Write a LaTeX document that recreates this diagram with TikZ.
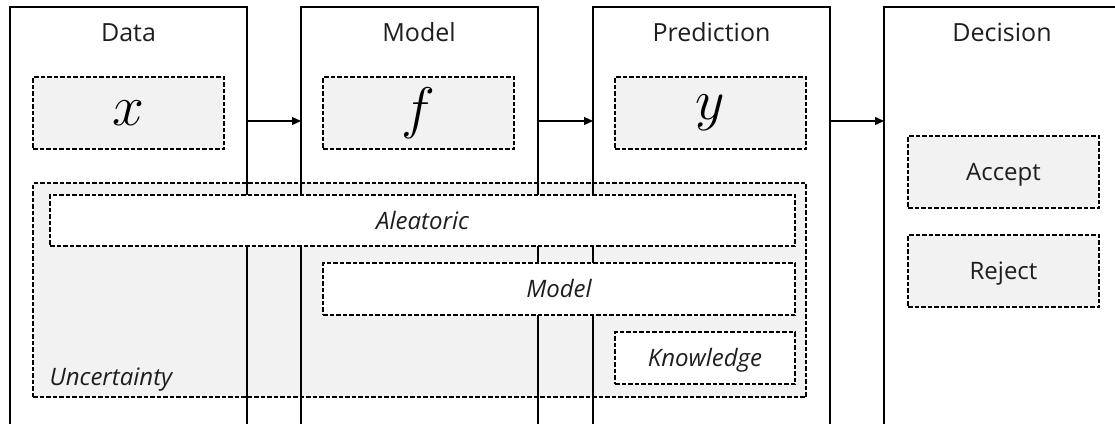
\documentclass[tikz,border=0pt]{standalone}
\usepackage{fontspec}
\setmainfont{Open Sans}
\usetikzlibrary{arrows.meta}
\definecolor{boxgrey}{HTML}{F2F2F2}
\definecolor{ink}{HTML}{1E1E1E}
\newcommand{\bigsym}[1]{\scalebox{2.3}{$#1$}}

\begin{document}
\begin{tikzpicture}[x=1pt,y=-1pt,
  column/.style={draw=black, line width=1.3pt, anchor=north west,
    minimum width=237pt, minimum height=440pt, inner sep=0pt, outer sep=0pt},
  coltitle/.style={anchor=base, text=ink, font=\fontsize{25}{30}\selectfont},
  dbox/.style={draw=black, line width=1.2pt, dash pattern=on 4.5pt off 2pt,
    anchor=north west, inner sep=0pt, outer sep=0pt, text=ink,
    text height=17pt, text depth=0pt, font=\fontsize{24}{28}\selectfont},
  greybox/.style={dbox, fill=boxgrey},
  whitebox/.style={dbox, fill=white, font=\fontsize{24}{28}\selectfont\itshape},
  mathbox/.style={greybox, text height=, text depth=, text=black,
    minimum width=191pt, minimum height=72pt, font=\fontsize{24.88}{30}\selectfont},
  flow/.style={draw=black, line width=1.3pt, -{Triangle[length=9pt,width=8pt]}}
]
\useasboundingbox (0,0) rectangle (1115,423);
\clip (0,0) rectangle (1115,423);

% shaded uncertainty region
\node[greybox, minimum width=773pt, minimum height=214pt] (unc) at (33,183) {};

% pipeline stages (open towards the bottom)
\node[column] (data) at (10,7) {};
\node[column] (model) at (301,7) {};
\node[column] (pred) at (593,7) {};
\node[column] (dec) at (884,7) {};

\node[coltitle] (tdata)  at (128.5,41) {Data};
\node[coltitle] (tmodel) at (419,41) {Model};
\node[coltitle] (tpred)  at (711.5,41) {Prediction};
\node[coltitle] (tdec)   at (1002,41) {Decision};

% sources of uncertainty
\node[whitebox, minimum width=745pt, minimum height=51pt] (alea) at (50,195) {Aleatoric};
\node[whitebox, minimum width=472pt, minimum height=52pt] (epi) at (323,263) {Model};
\node[whitebox, minimum width=180pt, minimum height=52pt] (know) at (615,332) {Knowledge};
\node[anchor=base west, text=ink, font=\fontsize{24}{28}\selectfont\itshape] (unclabel) at (46,385) {Uncertainty};

% stage contents
\node[mathbox] (xin) at (33,77) {\bigsym{x}};
\node[mathbox] (fmod) at (323,77) {\bigsym{f}};
\node[mathbox] (yout) at (615,77) {\bigsym{y}};

\node[greybox, minimum width=191pt, minimum height=72pt] (accept) at (908,136) {Accept};
\node[greybox, minimum width=191pt, minimum height=72pt] (reject) at (908,235) {Reject};

% flow between stages
\draw[flow] (data.east |- 0,121) -- (model.west |- 0,121);
\draw[flow] (model.east |- 0,121) -- (pred.west |- 0,121);
\draw[flow] (pred.east |- 0,121) -- (dec.west |- 0,121);
\end{tikzpicture}
\end{document}
